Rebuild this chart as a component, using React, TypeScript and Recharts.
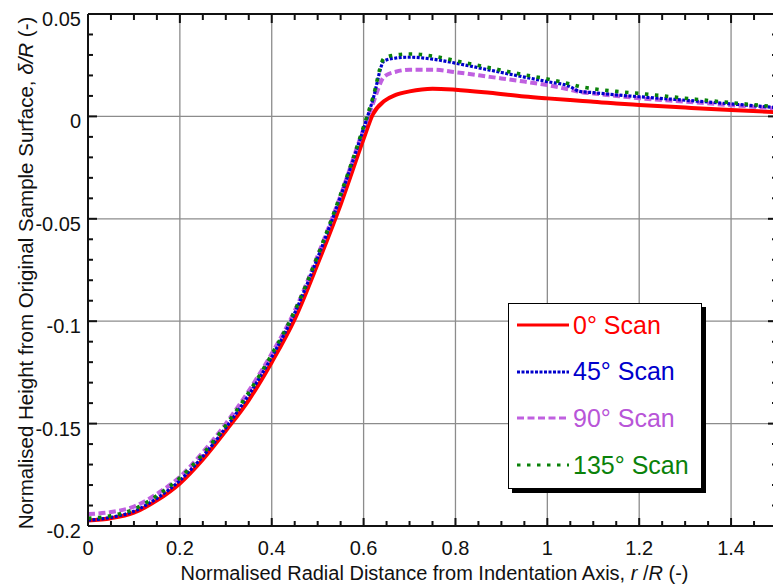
import React from 'react';
import { LineChart, Line, XAxis, YAxis, CartesianGrid, Legend, ReferenceLine } from 'recharts';

const FONT = '"Liberation Sans", Arial, Helvetica, sans-serif';

// normalised radial distance r/R
const radius = [
  0, 0.05, 0.1, 0.15, 0.2, 0.25, 0.3, 0.35, 0.4, 0.45, 0.5, 0.55, 0.6, 0.62, 0.645,
  0.67, 0.7, 0.75, 0.8, 0.875, 0.95, 1.0, 1.05, 1.07, 1.1, 1.15, 1.2, 1.3, 1.4, 1.5,
];

// normalised height delta/R for each scan direction
const scan0 = [
  -0.1973, -0.1962, -0.1935, -0.1875, -0.1792, -0.1675, -0.1535, -0.1385, -0.12, -0.099,
  -0.072, -0.043, -0.011, 0.001, 0.0075, 0.0105, 0.0122, 0.0135, 0.013, 0.0115,
  0.0097, 0.0088, 0.008, 0.0077, 0.0071, 0.0063, 0.0056, 0.0043, 0.0031, 0.0021,
];
const scan45 = [
  -0.1972, -0.1958, -0.1928, -0.1865, -0.1778, -0.166, -0.152, -0.136, -0.1175, -0.096,
  -0.069, -0.039, -0.006, 0.008, 0.0272, 0.0285, 0.0289, 0.028, 0.026, 0.0226,
  0.0192, 0.017, 0.0145, 0.0122, 0.0116, 0.0105, 0.0096, 0.0079, 0.0061, 0.0043,
];
const scan90 = [
  -0.1942, -0.1932, -0.1905, -0.1843, -0.176, -0.164, -0.15, -0.134, -0.1158, -0.095,
  -0.068, -0.0385, -0.006, 0.006, 0.0195, 0.0218, 0.0228, 0.0228, 0.0216, 0.0193,
  0.017, 0.0153, 0.013, 0.012, 0.0112, 0.01, 0.0089, 0.0072, 0.0055, 0.0039,
];
const scan135 = [
  -0.1962, -0.195, -0.1918, -0.1852, -0.1765, -0.1648, -0.1508, -0.1348, -0.1162, -0.095,
  -0.068, -0.038, -0.005, 0.009, 0.0285, 0.03, 0.0305, 0.0295, 0.0272, 0.0237,
  0.0203, 0.0183, 0.0158, 0.0146, 0.0135, 0.0122, 0.0112, 0.0089, 0.0067, 0.0047,
];

// axis ticks
const xMajor = [0, 0.2, 0.4, 0.6, 0.8, 1, 1.2, 1.4];
const xLabels = ['0', '0.2', '0.4', '0.6', '0.8', '1', '1.2', '1.4'];
const yMajor = [0.05, 0, -0.05, -0.1, -0.15, -0.2];
const yLabels = ['0.05', '0', '-0.05', '-0.1', '-0.15', '-0.2'];
const xTicks = Array.from({ length: 31 }, (_, i) => +(i * 0.05).toFixed(2));
const yTicks = Array.from({ length: 26 }, (_, i) => +(-0.2 + i * 0.01).toFixed(2));

const X_DOMAIN = [0, 1.5];
const Y_DOMAIN = [-0.2, 0.05];
// one pixel in data units (plot is 689 x 512 px)
const PX_X = (X_DOMAIN[1] - X_DOMAIN[0]) / 689;
const PX_Y = (Y_DOMAIN[1] - Y_DOMAIN[0]) / 512;

const series = [
  { key: 's0', name: '0° Scan', color: '#ff0000', text: '#ff0000', width: 4, dash: undefined },
  { key: 's90', name: '90° Scan', color: '#c060e0', text: '#b855d8', width: 4, dash: '7 3.5' },
  { key: 's45', name: '45° Scan', color: '#0000cc', text: '#0000cc', width: 3.2, dash: '3 1.5' },
  { key: 's135', name: '135° Scan', color: '#0a820a', text: '#0a820a', width: 3.6, dash: '3.5 6.5' },
];
const legendOrder = ['s0', 's45', 's90', 's135'];

const rows = radius.map((x, i) => ({
  x,
  s0: scan0[i],
  s45: scan45[i],
  s90: scan90[i],
  s135: scan135[i],
}));

const AXIS = '#111';
const TICK_W = 2;
const findMajor = (v: number, majors: number[]) => majors.findIndex((m) => Math.abs(m - v) < 1e-6);

const BottomTick = (p: any) => {
  const idx = findMajor(Number(p.payload.value), xMajor);
  if (idx < 0) return <g />;
  return (
    <text x={Number(p.x)} y={Number(p.y) + 29} textAnchor="middle" fontFamily={FONT} fontSize={20} fill="#111">
      {xLabels[idx]}
    </text>
  );
};

const LeftTick = (p: any) => {
  const idx = findMajor(Number(p.payload.value), yMajor);
  if (idx < 0) return <g />;
  return (
    <text x={Number(p.x) - 7} y={Number(p.y) + 12} textAnchor="end" fontFamily={FONT} fontSize={20} fill="#111">
      {yLabels[idx]}
    </text>
  );
};

const RightTick = (p: any) => {
  const x = Number(p.x);
  const y = Number(p.y);
  const idx = findMajor(Number(p.payload.value), yMajor);
  return <line x1={x} x2={x - (idx >= 0 ? 9 : 5)} y1={y} y2={y} stroke={AXIS} strokeWidth={TICK_W} />;
};

const XTitle = (p: any) => {
  const vb = p.viewBox && p.viewBox.width ? p.viewBox : { x: 88, y: 526, width: 689 };
  return (
    <text x={vb.x + vb.width / 2 + 2} y={580} textAnchor="middle" fontFamily={FONT} fontSize={20} fill="#111">
      Normalised Radial Distance from Indentation Axis,{' '}
      <tspan fontStyle="italic">r</tspan>
      {' /'}
      <tspan fontStyle="italic">R</tspan>
      {' (-)'}
    </text>
  );
};

const YTitle = (p: any) => {
  const vb = p.viewBox && p.viewBox.height ? p.viewBox : { x: 88, y: 14, height: 512 };
  const cy = vb.y + vb.height / 2 + 3;
  return (
    <text transform={`rotate(-90)`} x={-cy} y={33} textAnchor="middle" fontFamily={FONT} fontSize={20.5} fill="#111">
      Normalised Height from Original Sample Surface,{' '}
      <tspan fontStyle="italic">δ/R</tspan>
      {' (-)'}
    </text>
  );
};

const LegendBox = () => (
  <div
    style={{
      width: 194,
      height: 186,
      boxSizing: 'border-box',
      border: '1.5px solid #000',
      background: '#fff',
      boxShadow: '4px 4px 0 #000',
      position: 'relative',
      fontFamily: FONT,
    }}
  >
    {legendOrder.map((k, i) => {
      const s = series.find((d) => d.key === k)!;
      return (
        <div
          key={k}
          style={{
            position: 'absolute',
            left: 8,
            top: 21 + i * 46.7 - 16,
            height: 32,
            display: 'flex',
            alignItems: 'center',
            whiteSpace: 'nowrap',
          }}
        >
          <svg width={52} height={10}>
            <line x1={0} x2={52} y1={5} y2={5} stroke={s.color} strokeWidth={3} strokeDasharray={s.dash} />
          </svg>
          <span style={{ marginLeft: 4, fontSize: 25, color: s.text }}>{s.name}</span>
        </div>
      );
    })}
  </div>
);

export default function App() {
  const xLen = (v: number) => (findMajor(v, xMajor) >= 0 ? 8 : 5);
  const yLen = (v: number) => (findMajor(v, yMajor) >= 0 ? 9 : 5);
  return (
    <div style={{ position: 'fixed', left: 0, top: 0, width: 773, height: 586, overflow: 'hidden', background: '#fff' }}>
      <LineChart width={800} height={586} data={rows} margin={{ top: 13, left: 87, right: 22, bottom: 59 }}>
        <CartesianGrid
          horizontalValues={yMajor.slice(1, -1)}
          verticalValues={xMajor.slice(1)}
          stroke="#8c8c8c"
          strokeWidth={1.3}
        />
        <XAxis
          dataKey="x"
          type="number"
          domain={X_DOMAIN}
          allowDataOverflow
          ticks={xTicks}
          interval={0}
          height={1}
          tickSize={0}
          tickMargin={0}
          tickLine={false}
          tick={BottomTick}
          axisLine={{ stroke: AXIS, strokeWidth: 2 }}
          label={XTitle}
        />
        <XAxis
          xAxisId="top"
          dataKey="x"
          orientation="top"
          type="number"
          domain={X_DOMAIN}
          allowDataOverflow
          height={1}
          tick={false}
          tickLine={false}
          axisLine={{ stroke: AXIS, strokeWidth: 2 }}
        />
        <YAxis
          type="number"
          domain={Y_DOMAIN}
          allowDataOverflow
          ticks={yTicks}
          interval={0}
          width={1}
          tickSize={0}
          tickMargin={0}
          tickLine={false}
          tick={LeftTick}
          axisLine={{ stroke: AXIS, strokeWidth: 2 }}
          label={YTitle}
        />
        <YAxis
          yAxisId="right"
          orientation="right"
          type="number"
          domain={Y_DOMAIN}
          allowDataOverflow
          ticks={yTicks}
          interval={0}
          width={1}
          tickSize={0}
          tickMargin={0}
          tickLine={false}
          tick={RightTick}
          axisLine={{ stroke: AXIS, strokeWidth: 2 }}
        />
        {xTicks.map((v) => (
          <ReferenceLine
            key={`b${v}`}
            segment={[{ x: v, y: Y_DOMAIN[0] }, { x: v, y: Y_DOMAIN[0] + xLen(v) * PX_Y }]}
            stroke={AXIS}
            strokeWidth={TICK_W}
            ifOverflow="visible"
          />
        ))}
        {xTicks.map((v) => (
          <ReferenceLine
            key={`t${v}`}
            segment={[{ x: v, y: Y_DOMAIN[1] }, { x: v, y: Y_DOMAIN[1] - (xLen(v) + 1) * PX_Y }]}
            stroke={AXIS}
            strokeWidth={TICK_W}
            ifOverflow="visible"
          />
        ))}
        {yTicks.map((v) => (
          <ReferenceLine
            key={`l${v}`}
            segment={[{ x: X_DOMAIN[0], y: v }, { x: X_DOMAIN[0] + yLen(v) * PX_X, y: v }]}
            stroke={AXIS}
            strokeWidth={TICK_W}
            ifOverflow="visible"
          />
        ))}
        {series.map((s) => (
          <Line
            key={s.key}
            dataKey={s.key}
            name={s.name}
            type="monotone"
            stroke={s.color}
            strokeWidth={s.width}
            strokeDasharray={s.dash}
            dot={false}
            activeDot={false}
            isAnimationActive={false}
          />
        ))}
        <Legend
          layout="vertical"
          align="center"
          verticalAlign="middle"
          wrapperStyle={{ left: 508, top: 303, width: 194, height: 186 }}
          content={() => <LegendBox />}
        />
      </LineChart>
    </div>
  );
}
